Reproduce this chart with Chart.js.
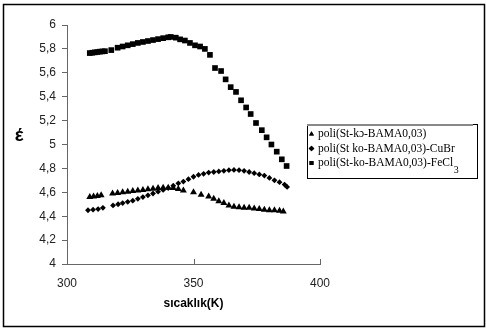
<!DOCTYPE html>
<html>
<head>
<meta charset="utf-8">
<script src="https://cdn.jsdelivr.net/npm/chart.js@4.4.0/dist/chart.umd.min.js"></script>
<style>
  html, body { margin: 0; padding: 0; background: #fff; }
  #wrap { width: 486px; height: 329px; position: relative; }
</style>
</head>
<body>
<div id="wrap"><canvas id="chart" width="486" height="329"></canvas></div>
<script>
// poli(St-ko-BAMA0,03)
const tempA = [309, 310.5, 312, 313.5, 318, 320, 322, 324, 326, 328, 330, 332, 334, 336, 338, 340, 342, 344, 346, 350, 353, 356, 358, 360, 362, 364, 366, 368, 370, 372, 374, 376, 378, 380, 382, 384, 385.5];
const epsA  = [4.56, 4.565, 4.57, 4.575, 4.59, 4.595, 4.60, 4.605, 4.61, 4.615, 4.62, 4.625, 4.63, 4.635, 4.638, 4.638, 4.635, 4.628, 4.615, 4.60, 4.58, 4.565, 4.545, 4.525, 4.51, 4.49, 4.48, 4.475, 4.47, 4.47, 4.465, 4.46, 4.455, 4.45, 4.45, 4.445, 4.44];

// poli(St-ko-BAMA0,03)-CuBr
const tempB = [308.3, 310.3, 312.3, 314.2, 318.2, 320.2, 322, 324, 326, 328, 330, 332, 334, 336, 338, 340, 342, 344, 346, 348, 350, 352, 354, 356, 358, 360, 362, 364, 366, 368, 370, 372, 374, 376, 378, 380, 382, 384, 386, 387];
const epsB  = [4.45, 4.455, 4.46, 4.47, 4.49, 4.50, 4.51, 4.52, 4.53, 4.545, 4.56, 4.575, 4.59, 4.605, 4.62, 4.635, 4.655, 4.675, 4.69, 4.71, 4.73, 4.745, 4.755, 4.765, 4.77, 4.775, 4.78, 4.785, 4.787, 4.785, 4.78, 4.77, 4.76, 4.75, 4.74, 4.72, 4.70, 4.685, 4.665, 4.645];

// poli(St-ko-BAMA0,03)-FeCl3
const tempC = [309, 310, 311, 312, 313, 314, 315, 317.5, 320, 322, 324, 326, 328, 330, 332, 334, 336, 338, 340, 341, 343, 344.7, 346.6, 348.6, 350.6, 352.6, 354.5, 356.5, 358.5, 360.9, 362.7, 364.7, 366.8, 368.8, 370.8, 372.6, 374.7, 377, 378.9, 380.8, 382.9, 384.9, 386.8];
const epsC  = [5.765, 5.768, 5.771, 5.774, 5.777, 5.779, 5.781, 5.79, 5.81, 5.82, 5.83, 5.84, 5.85, 5.858, 5.866, 5.874, 5.882, 5.89, 5.897, 5.90, 5.894, 5.88, 5.87, 5.85, 5.83, 5.82, 5.80, 5.75, 5.64, 5.615, 5.545, 5.48, 5.44, 5.37, 5.31, 5.255, 5.18, 5.12, 5.06, 5.00, 4.94, 4.876, 4.82];

const seriesNames = ['poli(St-kɔ-BAMA0,03)', 'poli(St ko-BAMA0,03)-CuBr', 'poli(St-ko-BAMA0,03)-FeCl'];
const pointStyles = ['triangle', 'rectRot', 'rect'];
const pointSizes = [4, 2.9, 4];

function toPoints(xs, ys) {
  return xs.map((x, i) => ({ x: x, y: ys[i] }));
}

// frame, y title, inward x ticks, legend
const extras = {
  id: 'extras',
  afterDraw(chart) {
    const ctx = chart.ctx;
    const xs = chart.scales.x;
    const area = chart.chartArea;
    ctx.save();
    // outer frame
    ctx.strokeStyle = '#000';
    ctx.lineWidth = 1.5;
    ctx.strokeRect(3.5, 4.5, 481, 322);

    // x ticks pointing up
    ctx.strokeStyle = '#666';
    ctx.lineWidth = 1;
    [350, 400].forEach(v => {
      const px = Math.round(xs.getPixelForValue(v)) + 0.5;
      ctx.beginPath();
      ctx.moveTo(px, area.bottom);
      ctx.lineTo(px, area.bottom - 5);
      ctx.stroke();
    });

    // y title
    ctx.fillStyle = '#000';
    ctx.font = 'bold 19px "Liberation Sans", Arial, sans-serif';
    ctx.textAlign = 'center';
    ctx.textBaseline = 'middle';
    ctx.fillText('έ', 19, 136);

    // legend box
    const lx = 307, ly = 124, lw = 170, lh = 54;
    ctx.fillStyle = '#fff';
    ctx.fillRect(lx, ly, lw, lh);
    ctx.strokeStyle = '#000';
    ctx.lineWidth = 1;
    ctx.strokeRect(lx + 0.5, ly + 0.5, lw, lh);
    ctx.strokeStyle = '#888';
    ctx.lineWidth = 2;
    ctx.beginPath();
    ctx.moveTo(lx, ly + 1);
    ctx.lineTo(lx + lw - 4, ly + 1);
    ctx.stroke();

    ctx.font = '11.5px "Liberation Serif", "Times New Roman", serif';
    ctx.textAlign = 'left';
    ctx.textBaseline = 'middle';
    seriesNames.forEach((name, i) => {
      const cy = 134 + i * 14.5;
      ctx.fillStyle = '#000';
      Chart.helpers.drawPoint(ctx, { pointStyle: pointStyles[i], radius: 2.8, borderWidth: 0 }, 311.5, cy);
      ctx.fill();
      ctx.fillText(name, 318, cy);
      if (i === 2) {
        const w = ctx.measureText(name).width;
        ctx.font = '10px "Liberation Serif", "Times New Roman", serif';
        ctx.fillText('3', 318 + w + 0.5, cy + 7);
        ctx.font = '11.5px "Liberation Serif", "Times New Roman", serif';
      }
    });
    ctx.restore();
  }
};

const ds = [
  toPoints(tempA, epsA),
  toPoints(tempB, epsB),
  toPoints(tempC, epsC)
].map((pts, i) => ({
  label: seriesNames[i],
  data: pts,
  pointStyle: pointStyles[i],
  pointRadius: pointSizes[i],
  pointBackgroundColor: '#000',
  pointBorderColor: '#000',
  pointBorderWidth: 0,
  showLine: false
}));

new Chart(document.getElementById('chart'), {
  type: 'scatter',
  data: { datasets: ds },
  options: {
    responsive: false,
    animation: false,
    layout: { padding: { top: 25, right: 166, left: 0, bottom: 0 } },
    plugins: {
      legend: { display: false },
      tooltip: { enabled: false }
    },
    scales: {
      x: {
        type: 'linear',
        min: 300,
        max: 400,
        afterFit(scale) { scale.height = 65; },
        border: { display: true, color: '#666', width: 1 },
        grid: { display: false, drawTicks: false },
        ticks: {
          stepSize: 50,
          padding: 12,
          color: '#222',
          font: { family: '"Liberation Sans", Arial, sans-serif', size: 12 }
        },
        title: {
          display: true,
          text: 'sıcaklık(K)',
          color: '#000',
          padding: { top: 0, bottom: 18 },
          font: { family: '"Liberation Sans", Arial, sans-serif', size: 12, weight: 'bold' }
        }
      },
      y: {
        min: 4,
        max: 6,
        afterFit(scale) { scale.width = 67; },
        border: { display: true, color: '#666', width: 1 },
        grid: { drawOnChartArea: false, drawTicks: true, tickLength: 5, color: '#666' },
        ticks: {
          stepSize: 0.2,
          padding: 6,
          color: '#222',
          font: { family: '"Liberation Sans", Arial, sans-serif', size: 12 },
          callback: v => {
            const s = (Math.round(v * 10) / 10).toString();
            return s.replace('.', ',');
          }
        }
      }
    }
  },
  plugins: [extras]
});
</script>
</body>
</html>
